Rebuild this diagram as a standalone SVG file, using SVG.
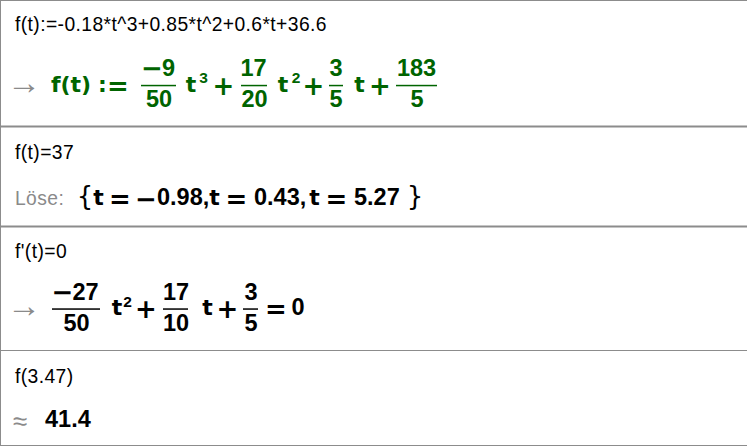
<svg xmlns="http://www.w3.org/2000/svg" width="747" height="446" viewBox="0 0 747 446">
<style>
.in{font-family:"Liberation Sans",Arial,sans-serif;font-size:19.3px;letter-spacing:0.4px;fill:#000}
.lab{font-family:"Liberation Sans",Arial,sans-serif;fill:#8a8a8a}
.m text{text-anchor:middle}
.m text.s{text-anchor:start}
.n{font-family:"Liberation Sans",Arial,sans-serif;font-weight:bold;font-size:23.5px}
.v{font-family:"DejaVu Sans",sans-serif;font-weight:bold;font-size:22px}
.op{font-family:"DejaVu Sans",sans-serif;font-weight:bold;font-size:26px}
.sup{font-family:"Liberation Sans",Arial,sans-serif;font-weight:bold;font-size:15.5px}
.br{font-family:"DejaVu Sans",sans-serif;font-size:26px}
.g{fill:#006400}
.k{fill:#000}
.sep{stroke:#8c8c8c;fill:none}
</style>
<rect x="0" y="0" width="747" height="446" fill="#fff"/>
<g id="separators">
<line class="sep" x1="0" y1="0.5" x2="747" y2="0.5"/>
<line class="sep" x1="0.5" y1="0" x2="0.5" y2="446"/>
<line class="sep" x1="0" y1="126.5" x2="747" y2="126.5" stroke-width="2"/>
<line class="sep" x1="0" y1="226.5" x2="747" y2="226.5" stroke-width="2"/>
<line class="sep" x1="0" y1="350.5" x2="747" y2="350.5"/>
<line class="sep" x1="0" y1="445.5" x2="747" y2="445.5"/>
</g>
<g id="row1">
<text class="in" x="15" y="31">f(t):=-0.18*t^3+0.85*t^2+0.6*t+36.6</text>
<text class="lab" x="24" y="93.5" font-size="34" text-anchor="middle">→</text>
<g class="m g">
<text class="v" x="71" y="91.5" font-size="21">f(t)</text>
<text class="v" x="102.5" y="91.5">:</text>
<text class="op" x="118" y="94.5">=</text>
<text class="op" x="152" y="77">−</text>
<text class="n" x="168.5" y="76">9</text>
<rect x="141" y="84.8" width="35" height="1.5"/>
<text class="n" x="159" y="107">50</text>
<text class="v" x="191" y="91.5">t</text>
<text class="sup" x="203.5" y="83">3</text>
<text class="op" x="223.5" y="94.5">+</text>
<text class="n" x="253.5" y="76">17</text>
<rect x="241" y="84.8" width="26" height="1.5"/>
<text class="n" x="254.5" y="107">20</text>
<text class="v" x="283" y="91.5">t</text>
<text class="sup" x="296" y="83">2</text>
<text class="op" x="313.5" y="94.5">+</text>
<text class="n" x="336" y="76">3</text>
<rect x="329" y="84.8" width="14" height="1.5"/>
<text class="n" x="336" y="107">5</text>
<text class="v" x="359.5" y="91.5">t</text>
<text class="op" x="380" y="94.5">+</text>
<text class="n" x="416.5" y="76">183</text>
<rect x="396" y="84.8" width="41" height="1.5"/>
<text class="n" x="417" y="107">5</text>
</g>
</g>
<g id="row2">
<text class="in" x="15" y="159">f(t)=37</text>
<text class="lab" x="15" y="205" font-size="19.3" letter-spacing="0.4">Löse:</text>
<g class="m k">
<text class="br" x="85" y="205">{</text>
<text class="v" x="98.5" y="205">t</text>
<text class="op" x="120" y="208">=</text>
<text class="op" x="146" y="208">−</text>
<text class="n s" x="157" y="205">0.98,</text>
<text class="v" x="214.5" y="205">t</text>
<text class="op" x="236.5" y="208">=</text>
<text class="n s" x="254" y="205">0.43,</text>
<text class="v" x="314.5" y="205">t</text>
<text class="op" x="336.5" y="208">=</text>
<text class="n s" x="354" y="205">5.27</text>
<text class="br" x="415" y="205">}</text>
</g>
</g>
<g id="row3">
<text class="in" x="15" y="258">f'(t)=0</text>
<text class="lab" x="24" y="317" font-size="34" text-anchor="middle">→</text>
<g class="m k">
<text class="op" x="62.5" y="300.5">−</text>
<text class="n" x="85.5" y="299.5">27</text>
<rect x="52" y="308.3" width="48" height="1.5"/>
<text class="n" x="76.5" y="331">50</text>
<text class="v" x="117" y="315">t</text>
<text class="sup" x="127.5" y="306.5">2</text>
<text class="op" x="146" y="318">+</text>
<text class="n" x="176" y="299.5">17</text>
<rect x="163" y="308.3" width="25" height="1.5"/>
<text class="n" x="176" y="331">10</text>
<text class="v" x="207.5" y="315">t</text>
<text class="op" x="227.5" y="318">+</text>
<text class="n" x="251" y="299.5">3</text>
<rect x="243" y="308.3" width="15" height="1.5"/>
<text class="n" x="251" y="331">5</text>
<text class="op" x="276" y="318">=</text>
<text class="n" x="298" y="315">0</text>
</g>
</g>
<g id="row4">
<text class="in" x="15" y="383">f(3.47)</text>
<text class="lab" x="20" y="430" font-size="26" text-anchor="middle">≈</text>
<text class="n k" x="45" y="427">41.4</text>
</g>
</svg>
